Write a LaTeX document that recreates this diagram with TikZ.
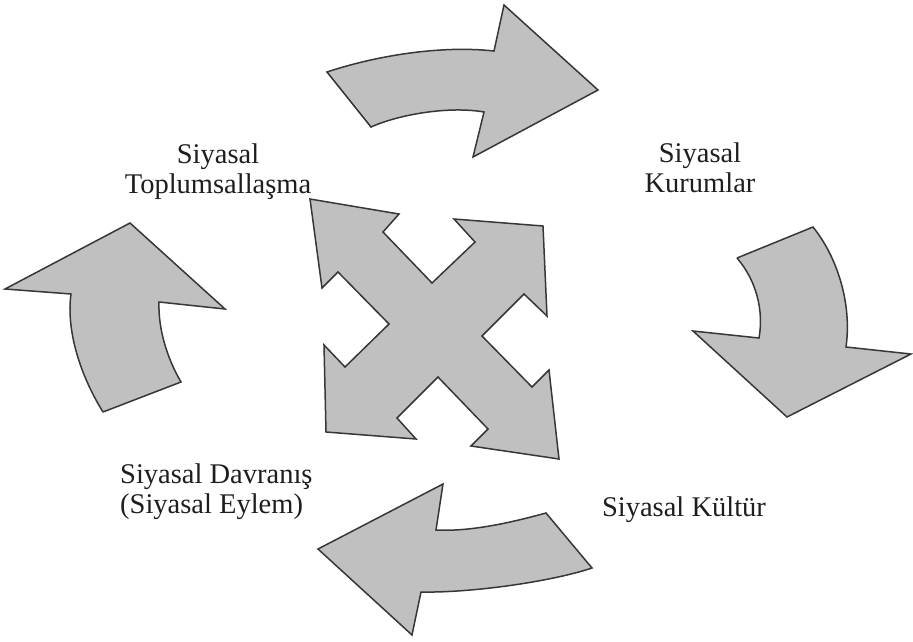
\documentclass[tikz,border=0pt]{standalone}
\usepackage{fontspec}
\setmainfont{Liberation Serif}
\definecolor{arrfill}{RGB}{192,192,192}
\definecolor{arrline}{RGB}{55,55,55}
\definecolor{txt}{RGB}{30,30,30}
\tikzset{
  shapearrow/.style={fill=arrfill, draw=arrline, line width=1.5pt, line join=miter},
  lbl/.style={inner sep=0pt, text=txt, font=\fontsize{28.5}{30}\selectfont}
}
\begin{document}
\begin{tikzpicture}[x=1pt,y=-1pt]
\useasboundingbox (0,0) rectangle (913,641);
% top arrow (to the right)
\path[shapearrow] (327,72) .. controls (375,56) and (440,45) .. (494,51)
  -- (504,5) -- (598,90) -- (473,157) -- (484,112)
  .. controls (450,106) and (400,114) .. (371,127) -- cycle;
% right arrow (downwards)
\path[shapearrow] (737,258) -- (813,227)
  .. controls (838,258) and (852,305) .. (846,347)
  -- (911,354) -- (787,417) -- (693,331) -- (759,338)
  .. controls (764,310) and (756,280) .. (737,258);
% bottom arrow (to the left)
\path[shapearrow] (546,513) .. controls (520,520) and (475,532) .. (436,530)
  -- (443,484) -- (318,549) -- (412,635) -- (421,592)
  .. controls (470,593) and (550,582) .. (592,568) -- cycle;
% left arrow (upwards)
\path[shapearrow] (103,412) -- (181,382)
  .. controls (168,360) and (158,330) .. (159,302)
  -- (225,309) -- (130,223) -- (5,289) -- (71,294)
  .. controls (66,330) and (80,375) .. (103,412);
% central four-headed cross
\path[shapearrow] (310,199) -- (399,214) -- (383,232) -- (432,283)
  -- (475,242) -- (454,219) -- (543,226) -- (547,316) -- (524,294)
  -- (482,336) -- (532,387) -- (549,370) -- (559,459) -- (471,446)
  -- (488,429) -- (438,377) -- (397,418) -- (416,439) -- (326,432)
  -- (324,345) -- (345,367) -- (389,324) -- (338,272) -- (322,288) -- cycle;
% labels
\node[lbl, anchor=north, align=center] (toplum) at (218,144) {Siyasal\\Toplumsallaşma};
\node[lbl, anchor=north, align=center] (kurum) at (700,143) {Siyasal\\Kurumlar};
\node[lbl, anchor=base] (kultur) at (684,516) {Siyasal Kültür};
\node[lbl, anchor=north west, align=left] (davranis) at (120,464) {Siyasal Davranış\\(Siyasal Eylem)};
\end{tikzpicture}
\end{document}
